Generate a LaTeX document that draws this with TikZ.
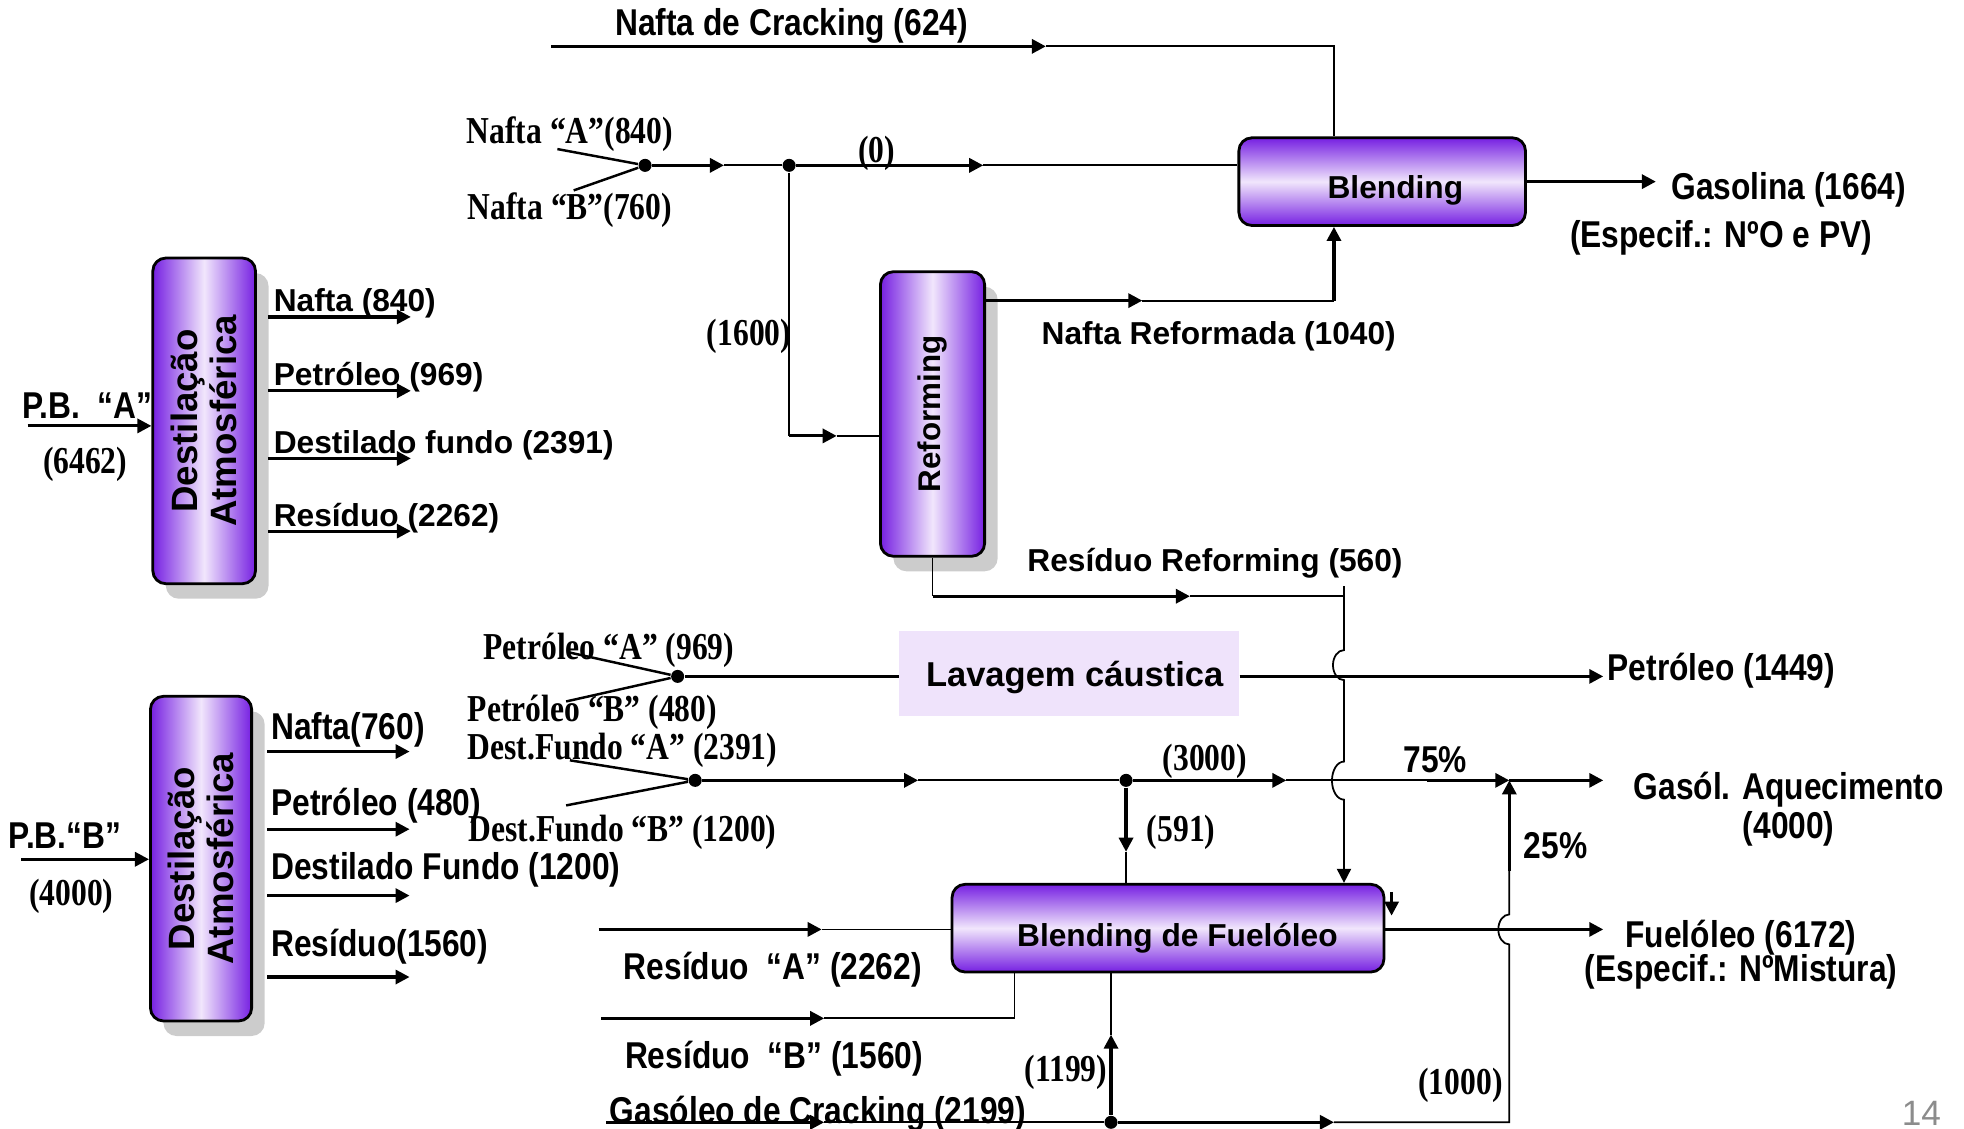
\documentclass[tikz,border=0pt]{standalone}
\usepackage{fontspec}
\setmainfont{Liberation Sans}
\newfontfamily\narrowsf[FakeStretch=0.85]{Liberation Sans}
\newfontfamily\narrowrm[FakeStretch=0.83]{Liberation Serif}
\usetikzlibrary{arrows.meta,shadows}
\definecolor{vio}{RGB}{118,32,226}
\definecolor{lav}{RGB}{241,230,252}
\definecolor{wash}{RGB}{239,227,251}
\begin{document}
\begin{tikzpicture}[x=0.125mm,y=-0.125mm,
  every node/.style={inner sep=0pt},
  lbl/.style={font=\bfseries\fontsize{9}{11}\selectfont},
  nlbl/.style={font=\narrowsf\bfseries\fontsize{10.6}{12.5}\selectfont},
  slbl/.style={font=\narrowrm\bfseries\fontsize{10.8}{12}\selectfont},
  low/.style={yshift=-0.35mm},
  column/.style={draw,line width=0.8pt,rounded corners=1.3mm,left color=vio,right color=vio,middle color=lav,
    drop shadow={fill=black!20,opacity=1,shadow xshift=1.3mm,shadow yshift=-1.5mm}},
  mixer/.style={draw,line width=0.8pt,rounded corners=1.3mm,top color=vio,bottom color=vio,middle color=lav},
  boxtxt/.style={font=\bfseries\fontsize{10.4}{11}\selectfont,rotate=90,align=center},
  flow/.style={line width=0.9pt,-{Triangle[length=1.4mm,width=1.4mm]}},
  pipe/.style={line width=0.5pt},
  tk/.style={line width=0.9pt},
  junc/.style={circle,fill,minimum size=1.3mm}]
\useasboundingbox (0,0) rectangle (1568,901);
\node[column,minimum width=10.25mm,minimum height=32.5mm] (destA) at (163,336) {};
\node[boxtxt] (destAt) at (destA) {Destilação\\Atmosférica};
\node[column,minimum width=10.1mm,minimum height=32.4mm] (destB) at (160.5,685.5) {};
\node[boxtxt] (destBt) at (destB) {Destilação\\Atmosférica};
\node[column,minimum width=10.4mm,minimum height=28.4mm] (refo) at (744.5,330.5) {};
\node[boxtxt,font=\bfseries\fontsize{8.9}{11}\selectfont] (refot) at (refo) {Reforming};
\node[mixer,minimum width=28.6mm,minimum height=8.75mm] (blend) at (1103.5,145) {};
\node[lbl,low] (blendt) at (1114,149) {Blending};
\node[mixer,minimum width=43.1mm,minimum height=8.75mm] (bfo) at (932.5,741) {};
\node[lbl,low] (bfot) at (940,746) {Blending de Fuelóleo};
\node[fill=wash,minimum width=33.9mm,minimum height=8.5mm] (lav) at (853.5,538) {};
\node[low,font=\bfseries\fontsize{9.8}{11}\selectfont] (lavt) at (858,538) {Lavagem cáustica};

\node[nlbl,low] (lpb1) at (70,321) {P.B.\ \ “A”};
\node[slbl,low] (lpb1q) at (68,368) {(6462)};
\coordinate (pbA0) at (22,340);
\draw[flow] (pbA0) -- (pbA0 -| destA.west);
\node[nlbl,low] (lpb2) at (52,664) {P.B.“B”};
\node[slbl,low] (lpb2q) at (57,713) {(4000)};
\coordinate (pbB0) at (17,686);
\draw[flow] (pbB0) -- (pbB0 -| destB.west);

\node[lbl,anchor=base west] (oA1l) at (218,249) {Nafta (840)};
\node[lbl,anchor=base west] (oA2l) at (218,308) {Petróleo (969)};
\node[lbl,anchor=base west] (oA3l) at (218,362) {Destilado fundo (2391)};
\node[lbl,anchor=base west] (oA4l) at (218,420) {Resíduo (2262)};
\coordinate (oA1) at (328,253); \coordinate (oA2) at (328,312);
\coordinate (oA3) at (328,366); \coordinate (oA4) at (328,424);
\draw[flow,shorten <=1.1mm] (destA.east |- oA1) -- (oA1); \draw[flow,shorten <=1.1mm] (destA.east |- oA2) -- (oA2);
\draw[flow,shorten <=1.1mm] (destA.east |- oA3) -- (oA3); \draw[flow,shorten <=1.1mm] (destA.east |- oA4) -- (oA4);

\node[nlbl,anchor=base west] (oB1l) at (216,590) {Nafta(760)};
\node[nlbl,anchor=base west] (oB2l) at (216,651) {Petróleo (480)};
\node[nlbl,anchor=base west] (oB3l) at (216,702) {Destilado Fundo (1200)};
\node[nlbl,anchor=base west] (oB4l) at (216,764) {Resíduo(1560)};
\coordinate (oB1) at (327,600); \coordinate (oB2) at (327,662);
\coordinate (oB3) at (327,715); \coordinate (oB4) at (327,780);
\draw[flow,shorten <=1.4mm] (destB.east |- oB1) -- (oB1); \draw[flow,shorten <=1.4mm] (destB.east |- oB2) -- (oB2);
\draw[flow,shorten <=1.4mm] (destB.east |- oB3) -- (oB3); \draw[flow,shorten <=1.4mm] (destB.east |- oB4) -- (oB4);

\node[nlbl,low] (lcrk) at (632,18) {Nafta de Cracking (624)};
\coordinate (crk0) at (440,37); \coordinate (crk1) at (835,37); \coordinate (crk2) at (1065,37);
\draw[flow] (crk0) -- (crk1); \draw[pipe] (crk1) -- (crk2) -- (crk2 |- blend.north);

\node[slbl,low] (lnfA) at (455,104) {Nafta “A”(840)};
\node[slbl,low] (lnfB) at (455,165) {Nafta “B”(760)};
\node[slbl,low] (l0) at (700,120) {(0)};
\node[slbl,low] (l1600) at (598,266) {(1600)};
\node[junc] (mixN) at (515,132) {}; \node[junc] (splN) at (630,132) {};
\coordinate (nfA0) at (445,119); \coordinate (nfB0) at (458,152);
\coordinate (mixN1) at (578,132); \coordinate (splN1) at (785,132);
\draw[pipe,line width=0.7pt] (nfA0) -- (mixN) (nfB0) -- (mixN);
\draw[flow] (mixN) -- (mixN1); \draw[pipe] (mixN1) -- (splN);
\draw[flow] (splN) -- (splN1); \draw[pipe] (splN1) -- (splN1 -| blend.west);
\coordinate (ref0) at (630,348); \coordinate (ref1) at (668,348);
\draw[pipe] (splN) -- (ref0); \draw[flow] (ref0) -- (ref1); \draw[pipe] (ref1) -- (ref1 -| refo.west);

\node[lbl,low] (lnr) at (973,266) {Nafta Reformada (1040)};
\coordinate (nr1) at (912,240); \coordinate (nr2) at (1065,240);
\draw[flow] (refo.east |- nr1) -- (nr1); \draw[pipe] (nr1) -- (nr2); \draw[flow] (nr2) -- (nr2 |- blend.south);
\node[nlbl,low] (lgas) at (1428,149) {Gasolina (1664)};
\node[nlbl,low] (lgasS) at (1374,187) {(Especif.: NºO e PV)};
\coordinate (gas1) at (1322,145);
\draw[flow] (blend.east |- gas1) -- (gas1);

\node[lbl,low] (lrr) at (970,447) {Resíduo Reforming (560)};
\coordinate (rr1) at (950,476); \coordinate (rr2) at (1073,476); \coordinate (rr0) at (refo.south |- rr1);
\coordinate (rr3) at (1073,468);
\draw[pipe] (refo.south) -- (rr0); \draw[flow] (rr0) -- (rr1); \draw[pipe] (rr1) -- (rr2);
\draw[pipe,-{Triangle[length=1.4mm,width=1.4mm]}] (rr3) -- (1073,519)
  arc[start angle=90,end angle=270,x radius=1.1mm,y radius=1.5mm] -- (1073,608)
  arc[start angle=90,end angle=270,x radius=1.2mm,y radius=1.9mm] -- (rr2 |- bfo.north);

\node[slbl,low] (lptA) at (486,516) {Petróleo “A” (969)};
\node[slbl,low] (lptB) at (473,566) {Petróleo “B” (480)};
\node[junc] (mixP) at (541,540) {};
\coordinate (ptA0) at (455,521); \coordinate (ptB0) at (452,560); \coordinate (pt1) at (1280,540);
\draw[pipe,line width=0.7pt] (ptA0) -- (mixP) (ptB0) -- (mixP);
\draw[tk] (mixP) -- (mixP -| lav.west);
\draw[flow] (lav.east |- pt1) -- (pt1);
\node[nlbl,anchor=west,low] (lpt) at (1283,533) {Petróleo (1449)};

\node[slbl,low] (ldfA) at (497,596) {Dest.Fundo “A” (2391)};
\node[slbl,low] (ldfB) at (497,662) {Dest.Fundo “B” (1200)};
\node[junc] (mixD) at (555,623) {}; \node[junc] (splD) at (899,623) {};
\coordinate (dfA0) at (455,607); \coordinate (dfB0) at (452,643);
\coordinate (mixD1) at (733,623); \coordinate (splD1) at (1027,623); \coordinate (gq75) at (1139,623);
\coordinate (gq0) at (1205,623); \coordinate (gq1) at (1280,623);
\draw[pipe,line width=0.7pt] (dfA0) -- (mixD) (dfB0) -- (mixD);
\draw[flow] (mixD) -- (mixD1); \draw[pipe] (mixD1) -- (splD);
\draw[flow] (splD) -- (splD1); \draw[pipe] (splD1) -- (gq75); \draw[flow] (gq75) -- (gq0); \draw[flow] (gq0) -- (gq1);
\coordinate (sp591) at (899,680);
\draw[flow] (splD) -- (sp591); \draw[pipe] (sp591) -- (sp591 |- bfo.north);
\node[slbl,low] (l3000) at (962,605) {(3000)};
\node[nlbl,low] (l75) at (1146,604) {75\%};
\node[slbl,low] (l591) at (943,662) {(591)};
\node[nlbl,low] (l25) at (1242,672) {25\%};
\node[nlbl,low] (lgq) at (1428,628) {Gasól. Aquecimento};
\node[nlbl,low] (lgq2) at (1428,659) {(4000)};

\node[nlbl,low] (lrA) at (617,771) {Resíduo\ \ “A” (2262)};
\node[nlbl,low] (lrB) at (618,842) {Resíduo\ \ “B” (1560)};
\coordinate (rA0) at (478,742); \coordinate (rA1) at (656,742);
\draw[flow] (rA0) -- (rA1); \draw[pipe] (rA1) -- (rA1 -| bfo.west);
\coordinate (rB0) at (480,813); \coordinate (rB1) at (658,813); \coordinate (rB2) at (810,813);
\draw[flow] (rB0) -- (rB1); \draw[pipe] (rB1) -- (rB2) -- (rB2 |- bfo.south);
\coordinate (tick0) at (1111,712); \coordinate (tick1) at (1111,731);
\draw[flow] (tick0) -- (tick1);
\coordinate (fo1) at (1280,742);
\draw[flow] (bfo.east |- fo1) -- (fo1);
\node[nlbl,low] (lfo) at (1390,746) {Fuelóleo (6172)};
\node[nlbl,low] (lfo2) at (1390,773) {(Especif.: NºMistura)};

\node[nlbl,low] (lgc) at (653,886) {Gasóleo de Cracking (2199)};
\node[slbl,low] (l1199) at (851,853) {(1199)};
\node[slbl,low] (l1000) at (1166,864) {(1000)};
\node[junc] (splG) at (887,896) {};
\coordinate (gc0) at (484,896); \coordinate (gc1) at (658,896);
\coordinate (gc2) at (1065,896); \coordinate (gc3) at (1205,896); \coordinate (g25) at (1205,695);
\draw[flow] (gc0) -- (gc1); \draw[pipe] (gc1) -- (splG); \draw[flow] (splG) -- (gc2);
\draw[pipe] (gc2) -- (gc3) -- (1205,754)
  arc[start angle=270,end angle=90,x radius=1.1mm,y radius=1.5mm] -- (g25);
\draw[flow] (g25) -- (gq0);
\coordinate (g1199) at (887,826);
\draw[flow] (splG) -- (g1199); \draw[pipe] (g1199) -- (g1199 |- bfo.south);
\node[font=\fontsize{10}{12}\selectfont,text=black!45,anchor=north] (pg) at (1534,879) {14};
\end{tikzpicture}
\end{document}
